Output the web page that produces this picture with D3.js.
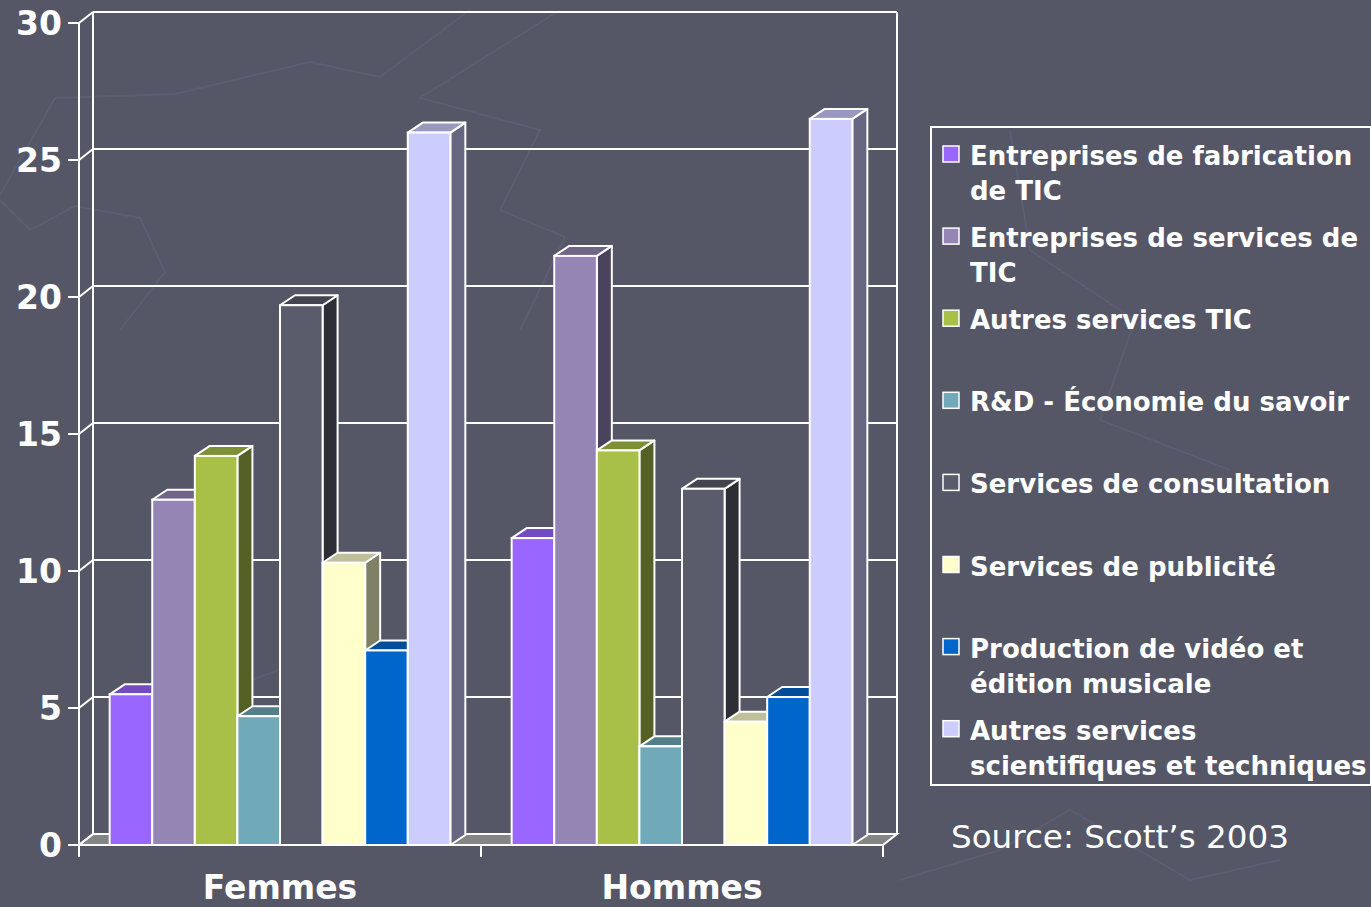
<!DOCTYPE html>
<html>
<head>
<meta charset="utf-8">
<script src="https://cdn.jsdelivr.net/npm/d3@7"></script>
<style>
  body { margin: 0; background: #555767; }
  svg { display: block; }
</style>
</head>
<body>
<div id="chart"></div>
<script>
// data
var categories = ["Femmes", "Hommes"];
var seriesNames = [
  "Entreprises de fabrication\nde TIC",
  "Entreprises de services de\nTIC",
  "Autres services TIC",
  "R&D - Économie du savoir",
  "Services de consultation",
  "Services de publicité",
  "Production de vidéo et\nédition musicale",
  "Autres services\nscientifiques et techniques"
];
var seriesColors = ["#9966ff", "#9585b5", "#a8c048", "#70a9b8", "#5a5b6b", "#ffffcc", "#0066cc", "#ccccff"];
var femmesValues = [5.5, 12.6, 14.2, 4.7, 19.7, 10.3, 7.1, 26.0];
var hommesValues = [11.2, 21.5, 14.4, 3.6, 13.0, 4.5, 5.4, 26.5];
var yTicks = [0, 5, 10, 15, 20, 25, 30];
var sourceText = "Source: Scott\u2019s 2003";

var width = 1371, height = 907;
var wallDx = 14, wallDy = -11;   // depth of the floor / side wall
var barDx = 15, barDy = -10;     // depth of the bars

var svg = d3.select("#chart").append("svg")
  .attr("width", width)
  .attr("height", height);

svg.append("rect")
  .attr("width", width).attr("height", height)
  .attr("fill", "#555767");

// faint slide background texture
var deco = [
  [[0, 195], [55, 98], [175, 94], [310, 62], [380, 77], [470, 10]],
  [[0, 200], [30, 230], [75, 206], [140, 218], [165, 272], [120, 330]],
  [[560, 10], [420, 98], [540, 130], [500, 210], [565, 237], [520, 330]],
  [[1010, 130], [1030, 250], [1135, 320], [1100, 420], [1230, 470]],
  [[900, 880], [1000, 850], [1070, 810], [1190, 880], [1280, 860]],
  [[240, 830], [130, 760], [200, 700], [330, 650], [450, 700]]
];
svg.append("g").selectAll("polyline")
  .data(deco).enter().append("polyline")
  .attr("points", function(d) { return d.map(function(p) { return p.join(","); }).join(" "); })
  .attr("fill", "none")
  .attr("stroke", "#5c5e72")
  .attr("stroke-width", 2);

var y = d3.scaleLinear().domain([0, 30]).range([845, 23]);
var x0 = d3.scaleBand().domain(categories).range([79, 883]);
var x1 = d3.scaleBand().domain(d3.range(seriesNames.length))
  .range([0, x0.bandwidth()]).paddingInner(0).paddingOuter(0.72);

var values = { "Femmes": femmesValues, "Hommes": hommesValues };

function shade(c, k) {
  var r = d3.rgb(c);
  return d3.rgb(r.r * k, r.g * k, r.b * k).formatHex();
}
function pts(a) { return a.map(function(p) { return p.join(","); }).join(" "); }

var xl = x0.range()[0], xr = x0.range()[1];
var line = "#ffffff";

// floor
svg.append("polygon")
  .attr("points", pts([[xl, y(0)], [xl + wallDx, y(0) + wallDy], [xr + wallDx, y(0) + wallDy], [xr, y(0)]]))
  .attr("fill", "#858585")
  .attr("stroke", line).attr("stroke-width", 2);

// back wall gridlines + side wall diagonals
var grid = svg.append("g");
yTicks.forEach(function(t) {
  grid.append("line")
    .attr("x1", xl + wallDx).attr("x2", xr + wallDx)
    .attr("y1", y(t) + wallDy).attr("y2", y(t) + wallDy)
    .attr("stroke", line).attr("stroke-width", 2);
  grid.append("line")
    .attr("x1", xl).attr("x2", xl + wallDx)
    .attr("y1", y(t)).attr("y2", y(t) + wallDy)
    .attr("stroke", line).attr("stroke-width", 2);
  grid.append("line")
    .attr("x1", xl - 11).attr("x2", xl)
    .attr("y1", y(t)).attr("y2", y(t))
    .attr("stroke", line).attr("stroke-width", 2);
});
// wall edges
grid.append("line")
  .attr("x1", xl + wallDx).attr("x2", xl + wallDx)
  .attr("y1", y(30) + wallDy).attr("y2", y(0) + wallDy)
  .attr("stroke", line).attr("stroke-width", 2);
grid.append("line")
  .attr("x1", xr + wallDx).attr("x2", xr + wallDx)
  .attr("y1", y(30) + wallDy).attr("y2", y(0) + wallDy)
  .attr("stroke", line).attr("stroke-width", 2);
grid.append("line")
  .attr("x1", xl).attr("x2", xl)
  .attr("y1", y(30)).attr("y2", y(0))
  .attr("stroke", line).attr("stroke-width", 2);

// bars, drawn left to right: side, top, front
categories.forEach(function(cat) {
  var g = svg.append("g");
  values[cat].forEach(function(v, i) {
    var bx = x0(cat) + x1(i), bw = x1.bandwidth();
    var top = y(v), base = y(0);
    var c = seriesColors[i];
    g.append("polygon")
      .attr("points", pts([[bx + bw, top], [bx + bw + barDx, top + barDy], [bx + bw + barDx, base + barDy], [bx + bw, base]]))
      .attr("fill", shade(c, 0.5))
      .attr("stroke", line).attr("stroke-width", 2).attr("stroke-linejoin", "round");
    g.append("polygon")
      .attr("points", pts([[bx, top], [bx + barDx, top + barDy], [bx + bw + barDx, top + barDy], [bx + bw, top]]))
      .attr("fill", shade(c, 0.75))
      .attr("stroke", line).attr("stroke-width", 2).attr("stroke-linejoin", "round");
    g.append("rect")
      .attr("x", bx).attr("y", top)
      .attr("width", bw).attr("height", base - top)
      .attr("fill", c)
      .attr("stroke", line).attr("stroke-width", 2);
  });
});

// front x axis line and category ticks
svg.append("line")
  .attr("x1", xl).attr("x2", xr)
  .attr("y1", y(0)).attr("y2", y(0))
  .attr("stroke", line).attr("stroke-width", 2);
[xl, xl + x0.bandwidth(), xr].forEach(function(tx) {
  svg.append("line")
    .attr("x1", tx).attr("x2", tx)
    .attr("y1", y(0)).attr("y2", y(0) + 12)
    .attr("stroke", line).attr("stroke-width", 2);
});

// y tick labels
svg.append("g").selectAll("text")
  .data(yTicks).enter().append("text")
  .attr("x", 62)
  .attr("y", function(d) { return y(d) + 12; })
  .attr("text-anchor", "end")
  .attr("font-family", "DejaVu Sans, Verdana, sans-serif")
  .attr("font-weight", "bold")
  .attr("font-size", 33)
  .attr("fill", "#ffffff")
  .text(function(d) { return d; });

// category labels
svg.append("g").selectAll("text")
  .data(categories).enter().append("text")
  .attr("x", function(d) { return x0(d) + x0.bandwidth() / 2; })
  .attr("y", 899)
  .attr("text-anchor", "middle")
  .attr("font-family", "DejaVu Sans, Verdana, sans-serif")
  .attr("font-weight", "bold")
  .attr("font-size", 33)
  .attr("fill", "#ffffff")
  .text(function(d) { return d; });

// legend
var legend = svg.append("g").attr("class", "legend");
legend.append("rect")
  .attr("x", 931).attr("y", 127)
  .attr("width", 440).attr("height", 658)
  .attr("fill", "none")
  .attr("stroke", line).attr("stroke-width", 2);

legend.selectAll("g.item")
  .data(seriesNames).enter().append("g")
  .attr("class", "item")
  .each(function(d, i) {
    var g = d3.select(this);
    var by = 165 + i * 82.1;
    g.append("rect")
      .attr("x", 943).attr("y", by - 19)
      .attr("width", 16).attr("height", 16)
      .attr("fill", seriesColors[i])
      .attr("stroke", "#ffffff").attr("stroke-width", 1.5);
    var t = g.append("text")
      .attr("x", 970).attr("y", by)
      .attr("font-family", "DejaVu Sans, Verdana, sans-serif")
      .attr("font-weight", "bold")
      .attr("font-size", 26)
      .attr("fill", "#ffffff");
    d.split("\n").forEach(function(s, k) {
      t.append("tspan").attr("x", 970).attr("y", by + k * 35).text(s);
    });
  });

svg.append("text")
  .attr("x", 951).attr("y", 848)
  .attr("font-family", "DejaVu Sans, Tahoma, sans-serif")
  .attr("font-size", 32.6)
  .attr("fill", "#ffffff")
  .text(sourceText);
</script>
</body>
</html>
